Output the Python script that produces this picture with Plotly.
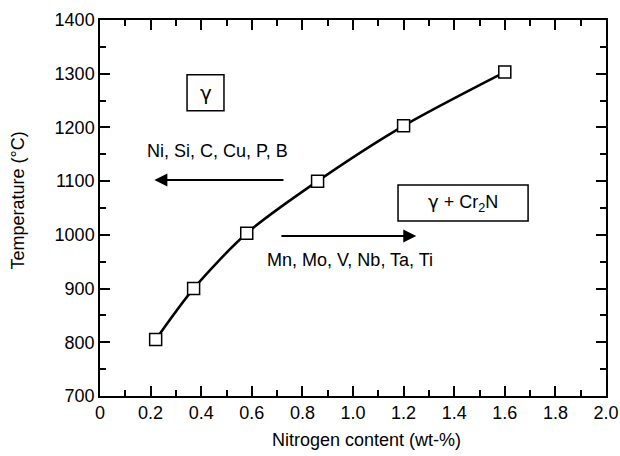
import plotly.graph_objects as go

nitrogen = [0.22, 0.37, 0.58, 0.86, 1.2, 1.6]
temperature = [805, 900, 1003, 1100, 1203, 1303]

x_ticks = [0, 0.2, 0.4, 0.6, 0.8, 1.0, 1.2, 1.4, 1.6, 1.8, 2.0]
x_tick_labels = ["0", "0.2", "0.4", "0.6", "0.8", "1.0", "1.2", "1.4", "1.6", "1.8", "2.0"]
y_ticks = [700, 800, 900, 1000, 1100, 1200, 1300, 1400]

FONT = "Liberation Sans, Arial, sans-serif"
GREEK = "DejaVu Sans"

fig = go.Figure()
fig.add_trace(go.Scatter(
    x=nitrogen, y=temperature, mode="lines",
    line=dict(color="black", width=2.5, shape="spline", smoothing=0.8),
    showlegend=False, hoverinfo="skip"))
fig.add_trace(go.Scatter(
    x=nitrogen, y=temperature, mode="markers",
    marker=dict(symbol="square", size=12, color="white", line=dict(color="black", width=1.5)),
    showlegend=False, hoverinfo="skip"))

axis_common = dict(showline=True, linecolor="black", linewidth=1.5, mirror="allticks",
                   ticks="inside", ticklen=10, tickwidth=1.5, tickcolor="black",
                   showgrid=False, zeroline=False, automargin=False,
                   tickfont=dict(family=FONT, size=18, color="black"))

fig.update_xaxes(range=[0, 2.0], tickvals=x_ticks, ticktext=x_tick_labels,
                 minor=dict(dtick=0.1, ticks="inside", ticklen=6, tickwidth=1.5, tickcolor="black", showgrid=False),
                 **axis_common)
fig.update_yaxes(range=[700, 1400], tickvals=y_ticks,
                 minor=dict(dtick=50, ticks="inside", ticklen=6, tickwidth=1.5, tickcolor="black", showgrid=False),
                 **axis_common)

shapes = [
    dict(type="rect", xref="x", yref="y", x0=0.344, x1=0.490, y0=1231, y1=1298,
         line=dict(color="black", width=1.5), fillcolor="white", layer="above"),
    dict(type="rect", xref="x", yref="y", x0=1.178, x1=1.692, y0=1026, y1=1093,
         line=dict(color="black", width=1.5), fillcolor="white", layer="above"),
]

annotations = [
    dict(x=0.417, y=1264, text="γ", showarrow=False, font=dict(family=GREEK, size=20, color="black")),
    dict(x=1.435, y=1059, text=f'<span style="font-family:{GREEK}">γ</span> + Cr<sub>2</sub>N',
         showarrow=False, font=dict(family=FONT, size=18, color="black")),
    dict(x=0.466, y=1156, text="Ni, Si, C, Cu, P, B", showarrow=False, font=dict(family=FONT, size=18, color="black")),
    dict(x=0.988, y=953, text="Mn, Mo, V, Nb, Ta, Ti", showarrow=False, font=dict(family=FONT, size=18, color="black")),
    dict(x=0.215, y=1102, ax=0.731, ay=1102, xref="x", yref="y", axref="x", ayref="y",
         text="", showarrow=True, arrowhead=2, arrowsize=1.3, arrowwidth=2, arrowcolor="black"),
    dict(x=1.25, y=998, ax=0.711, ay=998, xref="x", yref="y", axref="x", ayref="y",
         text="", showarrow=True, arrowhead=2, arrowsize=1.3, arrowwidth=2, arrowcolor="black"),
    dict(x=0, y=0.52, xref="paper", yref="paper", xanchor="center", yanchor="middle",
         xshift=-82, text="Temperature (°C)", textangle=-90, showarrow=False,
         font=dict(family=FONT, size=18, color="black")),
    dict(x=0.526, y=0, xref="paper", yref="paper", xanchor="center", yanchor="middle",
         yshift=-44, text="Nitrogen content (wt-%)", showarrow=False,
         font=dict(family=FONT, size=18, color="black")),
]

fig.update_layout(
    width=620, height=456,
    margin=dict(l=100, r=14, t=20, b=60),
    paper_bgcolor="white", plot_bgcolor="white",
    shapes=shapes, annotations=annotations,
)

# remove the page body's default margin so the 620x456 figure fills the window exactly
fig.write_html("out.html", config={"displayModeBar": False},
               post_script="document.body.style.margin='0';document.body.style.overflow='hidden';")
